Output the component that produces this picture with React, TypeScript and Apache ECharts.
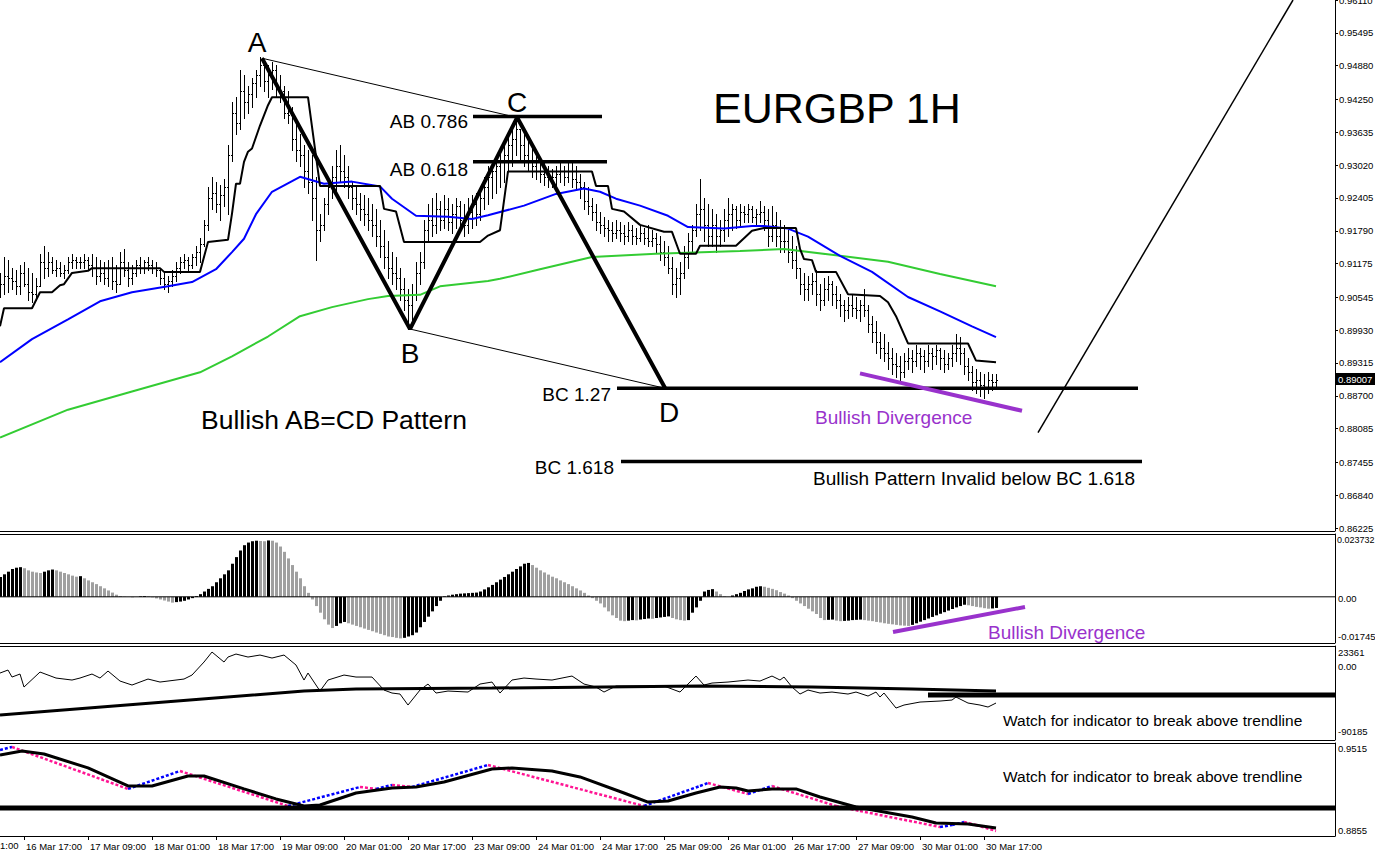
import React, { useEffect, useRef } from "react";
import * as echarts from "echarts";

// ---------- DATA ----------
const priceTicks = [0.86225, 0.8684, 0.87455, 0.88085, 0.887, 0.89315, 0.8993, 0.90545, 0.91175, 0.9179, 0.92405, 0.9302, 0.93635, 0.9425, 0.9488, 0.95495, 0.9611];
const timeTickIdx = [6, 22, 38, 54, 70, 86, 102, 118, 134, 150, 166, 182, 198, 214, 230, 246];
const timeTickLabels = ["16 Mar 17:00", "17 Mar 09:00", "18 Mar 01:00", "18 Mar 17:00", "19 Mar 09:00", "20 Mar 01:00", "20 Mar 17:00", "23 Mar 09:00", "24 Mar 01:00", "24 Mar 17:00", "25 Mar 09:00", "26 Mar 01:00", "26 Mar 17:00", "27 Mar 09:00", "30 Mar 01:00", "30 Mar 17:00"];
const currentPrice = 0.89007;
const firstOpenPips = 9070;

const highPips = [
  9100, 9130, 9125, 9110, 9105, 9115, 9120, 9110, 9100, 9090,
  9135, 9150, 9140, 9130, 9125, 9120, 9115, 9130, 9135, 9130,
  9130, 9135, 9130, 9135, 9130, 9125, 9120, 9125, 9130, 9115,
  9140, 9145, 9120, 9115, 9125, 9130, 9125, 9130, 9125, 9120,
  9110, 9100, 9095, 9105, 9120, 9130, 9135, 9130, 9135, 9150,
  9165, 9200, 9260, 9280, 9270, 9265, 9275, 9340, 9420, 9430,
  9480, 9470, 9450, 9465, 9480, 9505, 9495, 9490, 9495, 9490,
  9470, 9450, 9440, 9410, 9380, 9360, 9340, 9330, 9320, 9280,
  9210, 9240, 9280, 9300, 9330, 9340, 9320, 9300, 9270, 9260,
  9250, 9245, 9240, 9230, 9220, 9200, 9180, 9160, 9140, 9130,
  9110, 9090, 9070, 9080, 9120, 9140, 9200, 9230, 9240, 9250,
  9235, 9245, 9240, 9230, 9240, 9235, 9230, 9240, 9245, 9250,
  9260, 9280, 9300, 9310, 9320, 9330, 9340, 9360, 9375, 9390,
  9370, 9360, 9350, 9340, 9320, 9310, 9305, 9300, 9295, 9300,
  9305, 9300, 9310, 9305, 9300, 9285, 9270, 9260, 9240, 9230,
  9215, 9205, 9200, 9195, 9200, 9195, 9190, 9195, 9190, 9185,
  9190, 9185, 9190, 9180, 9175, 9170, 9160, 9150, 9130, 9110,
  9120, 9150, 9175, 9190, 9230, 9275, 9240, 9230, 9220, 9210,
  9200, 9220, 9240, 9230, 9225, 9230, 9225, 9230, 9225, 9220,
  9235, 9225, 9220, 9225, 9215, 9200, 9190, 9180, 9170, 9150,
  9110, 9100, 9095, 9100, 9105, 9080, 9090, 9095, 9085, 9075,
  9060, 9050, 9055, 9060, 9055, 9050, 9070, 9040, 9020, 9010,
  8990, 8985, 8970, 8960, 8950, 8945, 8950, 8960, 8955, 8965,
  8960, 8955, 8965, 8960, 8965, 8960, 8955, 8950, 8965, 8985,
  8980, 8960, 8940, 8925, 8920, 8915, 8910, 8915, 8910, 8910,
];
const lowPips = [
  9055, 9060, 9065, 9070, 9060, 9060, 9075, 9050, 9045, 9050,
  9075, 9090, 9095, 9100, 9095, 9095, 9090, 9100, 9110, 9110,
  9110, 9110, 9105, 9095, 9080, 9085, 9080, 9075, 9070, 9065,
  9080, 9095, 9075, 9080, 9095, 9100, 9100, 9105, 9100, 9095,
  9080, 9070, 9065, 9075, 9085, 9100, 9110, 9105, 9110, 9115,
  9120, 9150, 9180, 9220, 9215, 9200, 9225, 9210, 9310, 9360,
  9370, 9390, 9400, 9410, 9430, 9450, 9440, 9430, 9445, 9430,
  9420, 9390, 9380, 9330, 9310, 9300, 9260, 9250, 9200, 9125,
  9160, 9180, 9210, 9240, 9250, 9270, 9260, 9240, 9220, 9210,
  9200, 9190, 9180, 9170, 9150, 9130, 9110, 9090, 9080, 9070,
  9050, 9030, 8995, 9010, 9050, 9080, 9110, 9160, 9170, 9175,
  9180, 9185, 9180, 9175, 9185, 9180, 9170, 9175, 9185, 9190,
  9200, 9220, 9230, 9240, 9250, 9260, 9270, 9290, 9300, 9320,
  9310, 9300, 9290, 9280, 9275, 9270, 9265, 9260, 9260, 9265,
  9270, 9265, 9270, 9260, 9255, 9240, 9220, 9210, 9200, 9180,
  9175, 9170, 9160, 9160, 9165, 9160, 9155, 9160, 9155, 9155,
  9160, 9155, 9150, 9150, 9140, 9125, 9115, 9100, 9060, 9055,
  9060, 9090, 9110, 9140, 9170, 9180, 9160, 9150, 9150, 9140,
  9150, 9160, 9170, 9180, 9185, 9190, 9195, 9195, 9195, 9190,
  9195, 9180, 9150, 9160, 9150, 9140, 9140, 9120, 9110, 9090,
  9060, 9050, 9050, 9060, 9040, 9030, 9040, 9050, 9040, 9035,
  9020, 9010, 9015, 9020, 9015, 9010, 9020, 8990, 8970, 8950,
  8940, 8935, 8920, 8910, 8905, 8900, 8905, 8920, 8915, 8925,
  8920, 8915, 8925, 8920, 8930, 8920, 8915, 8920, 8925, 8935,
  8930, 8910, 8900, 8880, 8875, 8870, 8865, 8875, 8880, 8885,
];
const closePips = [
  9080, 9095, 9090, 9085, 9075, 9100, 9080, 9065, 9060, 9075,
  9120, 9110, 9120, 9105, 9110, 9100, 9105, 9120, 9125, 9120,
  9120, 9125, 9115, 9110, 9095, 9100, 9090, 9110, 9085, 9080,
  9120, 9105, 9090, 9100, 9115, 9110, 9120, 9115, 9110, 9105,
  9090, 9080, 9085, 9095, 9110, 9120, 9125, 9115, 9130, 9140,
  9155, 9190, 9240, 9250, 9230, 9245, 9260, 9320, 9400, 9380,
  9440, 9420, 9435, 9455, 9470, 9490, 9460, 9470, 9480, 9445,
  9440, 9400, 9395, 9350, 9330, 9320, 9290, 9270, 9240, 9180,
  9190, 9230, 9260, 9280, 9300, 9290, 9280, 9260, 9240, 9230,
  9220, 9210, 9200, 9190, 9170, 9150, 9130, 9110, 9100, 9090,
  9070, 9050, 9040, 9060, 9100, 9120, 9180, 9200, 9190, 9220,
  9200, 9220, 9195, 9210, 9225, 9200, 9190, 9215, 9230, 9210,
  9240, 9260, 9280, 9290, 9300, 9310, 9320, 9340, 9350, 9370,
  9340, 9320, 9310, 9300, 9290, 9285, 9280, 9275, 9280, 9285,
  9290, 9280, 9290, 9275, 9270, 9260, 9235, 9225, 9215, 9195,
  9190, 9185, 9180, 9175, 9180, 9175, 9170, 9180, 9170, 9165,
  9175, 9165, 9160, 9165, 9155, 9140, 9130, 9110, 9080, 9090,
  9100, 9130, 9160, 9180, 9210, 9220, 9190, 9170, 9190, 9170,
  9180, 9200, 9210, 9220, 9200, 9215, 9210, 9220, 9205, 9210,
  9215, 9200, 9170, 9190, 9170, 9160, 9160, 9140, 9125, 9110,
  9080, 9070, 9080, 9085, 9060, 9050, 9070, 9080, 9060, 9050,
  9040, 9030, 9040, 9035, 9030, 9040, 9030, 9005, 8990, 8970,
  8960, 8950, 8940, 8930, 8925, 8915, 8935, 8940, 8935, 8950,
  8945, 8935, 8950, 8945, 8955, 8940, 8930, 8940, 8950, 8960,
  8950, 8925, 8915, 8895, 8900, 8890, 8885, 8900, 8895, 8900,
];

// moving averages: [bar index, price]
const blueMA = [[0, 0.8933], [8, 0.8976], [17, 0.9013], [25, 0.9047], [33, 0.9064], [42, 0.9075], [48, 0.9083], [54, 0.9107], [58, 0.9139], [61, 0.9164], [64, 0.9210], [68, 0.9252], [75, 0.9280], [81, 0.9267], [88, 0.9271], [95, 0.9262], [98, 0.9239], [104, 0.9207], [112, 0.9205], [118, 0.9201], [122, 0.9208], [131, 0.9226], [139, 0.9248], [146, 0.9258], [150, 0.9252], [154, 0.9239], [160, 0.9226], [167, 0.9207], [172, 0.9186], [181, 0.9183], [188, 0.9188], [191, 0.9188], [197, 0.9183], [202, 0.9168], [210, 0.9132], [218, 0.9102], [227, 0.9055], [235, 0.9028], [243, 0.9000], [249, 0.8980]];
const greenMA = [[0, 0.8792], [17, 0.8844], [33, 0.8878], [50, 0.8914], [58, 0.8944], [67, 0.8981], [75, 0.9019], [83, 0.9036], [92, 0.9051], [97, 0.9057], [105, 0.9059], [110, 0.9075], [122, 0.9085], [125, 0.9089], [135, 0.9107], [148, 0.9130], [164, 0.9136], [185, 0.9141], [196, 0.9145], [210, 0.9132], [222, 0.9121], [235, 0.9098], [249, 0.9075]];
const blackStep = [[0, 0.9000], [1, 0.9034], [8, 0.9034], [10, 0.9064], [13, 0.9064], [15, 0.9077], [16, 0.9079], [18, 0.9100], [22, 0.9104], [23, 0.9109], [40, 0.9109], [41, 0.9102], [50, 0.9102], [52, 0.9158], [57, 0.9162], [58, 0.9211], [59, 0.9267], [60, 0.9267], [61, 0.9308], [62, 0.9327], [63, 0.9333], [65, 0.9376], [67, 0.9414], [68, 0.9429], [77, 0.9429], [80, 0.9263], [95, 0.9263], [96, 0.9220], [99, 0.9215], [101, 0.9158], [120, 0.9158], [122, 0.9170], [125, 0.9180], [127, 0.9290], [148, 0.9290], [149, 0.9263], [152, 0.9263], [153, 0.9220], [156, 0.9215], [160, 0.9190], [166, 0.9177], [168, 0.9177], [170, 0.9136], [174, 0.9136], [175, 0.9151], [184, 0.9151], [186, 0.9165], [188, 0.9179], [191, 0.9184], [199, 0.9184], [200, 0.9145], [201, 0.9126], [203, 0.9124], [204, 0.9102], [209, 0.9102], [212, 0.9060], [220, 0.9057], [222, 0.9045], [224, 0.9019], [227, 0.8968], [242, 0.8968], [244, 0.8936], [249, 0.8933]];

// pattern points A, B, C, D : [bar index, price]
const patternABCD = [[65.5, 0.9502], [102.5, 0.8995], [129.3, 0.9391], [166.3, 0.8884]];
const levelAB786 = [[118.25, 0.9393], [150.5, 0.9393]];
const levelAB618 = [[118.25, 0.9308], [151.75, 0.9308]];
const levelBC127 = [[154.25, 0.8884], [284.5, 0.8884]];
const levelBC1618 = [[155.25, 0.8747], [285.5, 0.8747]];
const projection = [[259.5, 0.8801], [323.25, 0.9611]];
const divergencePrice = [[215, 0.8912], [255.5, 0.8842]];

// MACD histogram (x 1e-4)
const macdE4 = [
  75, 85, 95, 105, 110, 112, 108, 100, 95, 92,
  90, 95, 100, 103, 100, 95, 90, 85, 80, 76,
  78, 70, 62, 55, 48, 40, 32, 24, 16, 8,
  3, 1, 0, -2, 0, 2, 3, 2, -2, -6,
  -10, -14, -18, -22, -20, -18, -15, -10, -5, 3,
  10, 20, 30, 40, 55, 70, 85, 100, 125, 150,
  175, 195, 205, 210, 212, 211, 210, 213, 212, 205,
  190, 170, 145, 120, 95, 70, 40, 15, -10, -35,
  -60, -85, -105, -118, -110, -100, -95, -100, -105, -110,
  -115, -120, -125, -130, -135, -140, -145, -150, -152, -155,
  -157, -155, -150, -145, -135, -115, -95, -75, -55, -35,
  -15, 2, 5, 8, 10, 12, 13, 14, 15, 16,
  20, 28, 36, 45, 55, 65, 75, 85, 95, 105,
  115, 125, 128, 120, 110, 100, 92, 84, 76, 70,
  62, 55, 48, 40, 32, 24, 15, 5, -5, -15,
  -25, -40, -55, -70, -80, -90, -92, -90, -88, -89,
  -86, -84, -82, -83, -80, -78, -76, -74, -80, -85,
  -88, -90, -88, -60, -40, -15, 20, 26, 29, 20,
  10, 2, 0, 5, 10, 15, 22, 28, 32, 38,
  40, 38, 34, 30, 25, 18, 12, 5, -5, -15,
  -25, -35, -45, -55, -65, -80, -88, -87, -86, -90,
  -92, -91, -90, -88, -87, -86, -88, -90, -92, -95,
  -97, -100, -102, -104, -106, -108, -109, -110, -106, -100,
  -94, -88, -82, -76, -70, -64, -58, -52, -46, -40,
  -35, -30, -32, -35, -38, -40, -43, -45, -44, -42,
];
const divergenceMacd = [[223.25, -0.0133], [256.25, -0.00385]];

// oscillator panel
const oscThin = [[0, -9300], [2, -5680], [3, -14130], [5, -10510], [6, -26210], [10, -8090], [14, -15340], [18, -17760], [20, -15340], [23, -10510], [25, -15340], [27, -6890], [30, -18970], [33, -23800], [37, -16550], [40, -20170], [46, -16550], [48, -11720], [51, 3990], [53, 16070], [56, 3990], [57, 10030], [59, 13650], [62, 10030], [65, 12440], [68, 8820], [71, 12440], [74, 360], [76, -17760], [77, -9300], [80, -31050], [82, -17760], [86, -11720], [89, -14130], [93, -14130], [96, -29840], [98, -33460], [100, -34670], [102, -47960], [105, -29840], [107, -22590], [109, -33460], [112, -31050], [117, -32250], [120, -22590], [123, -20170], [125, -33460], [128, -17760], [131, -15340], [134, -16550], [138, -17760], [143, -12930], [146, -22590], [149, -26210], [151, -32250], [154, -25010], [161, -25010], [166, -25010], [170, -32250], [172, -22590], [174, -12930], [176, -23800], [178, -21380], [182, -20170], [187, -17760], [190, -18970], [193, -12930], [195, -17760], [196, -14130], [198, -26210], [200, -34670], [202, -29840], [205, -33460], [208, -32250], [212, -34670], [214, -32250], [217, -37090], [219, -32250], [220, -38290], [221, -33460], [224, -51580], [226, -47960], [230, -44330], [235, -43130], [238, -41920], [239, -38290], [242, -45540], [245, -47960], [247, -50370], [249, -45540]];
const oscThick = [[0, -60040], [38, -45540], [76, -31050], [89, -28630], [123, -27420], [175, -25010], [203, -26210], [228, -28630], [249, -31050]];
const oscTrend = [[232, -35880], [333.75, -35880]];

// bottom panel
const lowerBlack = [[0, 0.9430], [5.5, 0.9458], [11, 0.9437], [22, 0.9338], [32, 0.9210], [38, 0.9210], [47, 0.9281], [51, 0.9281], [61, 0.9189], [69, 0.9118], [76, 0.9068], [80, 0.9075], [89, 0.9160], [98, 0.9196], [104, 0.9203], [111, 0.9238], [123, 0.9330], [128, 0.9338], [138, 0.9316], [145, 0.9274], [156, 0.9160], [162, 0.9096], [167, 0.9103], [174, 0.9160], [180, 0.9203], [184, 0.9196], [187, 0.9174], [193, 0.9189], [199, 0.9189], [205, 0.9132], [214, 0.9061], [228, 0.8990], [234, 0.8947], [242, 0.8940], [249, 0.8912]];
const lowerColor = [[0, 0.9465], [3, 0.9487], [32, 0.9189], [45, 0.9316], [72, 0.9068], [90, 0.9203], [94, 0.9189], [98, 0.9217], [103, 0.9203], [122, 0.9359], [161, 0.9068], [175, 0.9210], [177, 0.9231], [187, 0.9153], [193, 0.9210], [209, 0.9068], [215, 0.9032], [235, 0.8919], [238, 0.8933], [241, 0.8954], [244, 0.8933], [249, 0.8891]];
const lowerTrend = [[0, 0.90537], [333.75, 0.90537]];

// ---------- CHART ----------
const FONT = '"Liberation Sans", Arial, sans-serif';
const XMAX = 333.75;
const XMIN = 0;
const PLOT_RIGHT = 1335;
const SEPARATORS = [531, 534, 643, 646, 740, 743];

function buildOption() {
  const ohlc = closePips.map((c, i) => {
    const o = i === 0 ? firstOpenPips : closePips[i - 1];
    return [i, o / 10000, c / 10000, lowPips[i] / 10000, highPips[i] / 10000];
  });
  const macd = macdE4.map((v, i) => [i, v / 10000, (i === 0 ? v - 1 : macdE4[i - 1]) / 10000]);
  const segs = [] as number[][];
  for (let i = 1; i < lowerColor.length; i++) {
    segs.push([lowerColor[i - 1][0], lowerColor[i - 1][1], lowerColor[i][0], lowerColor[i][1]]);
  }

  const grids = [
    { left: 0, right: 40, top: 0, height: 531 },
    { left: 0, right: 40, top: 534, height: 109 },
    { left: 0, right: 40, top: 646, height: 94 },
    { left: 0, right: 40, top: 743, height: 93 },
  ].map((g) => ({ ...g, show: false, containLabel: false, outerBoundsMode: "none" }));

  const xAxes = [0, 1, 2, 3].map((gi) => ({
    type: "value",
    gridIndex: gi,
    min: XMIN,
    max: XMAX,
    splitLine: { show: false },
    axisLine: { show: gi === 3, onZero: false, lineStyle: { color: "#000" } },
    axisTick: gi === 3 ? { show: true, customValues: timeTickIdx, length: 4, lineStyle: { color: "#000" } } : { show: false },
    axisLabel:
      gi === 3
        ? {
            show: true,
            customValues: timeTickIdx,
            formatter: (v: number) => timeTickLabels[timeTickIdx.indexOf(Math.round(v))] || "",
            align: "left",
            margin: 5,
            padding: [0, 0, 0, 2],
            fontFamily: FONT,
            fontSize: 9.5,
            color: "#000",
          }
        : { show: false },
  }));

  const yBase = (gi: number, min: number, max: number) => ({
    type: "value",
    gridIndex: gi,
    position: "right",
    min,
    max,
    splitLine: { show: false },
    axisLine: { show: true, onZero: false, lineStyle: { color: "#000" } },
    axisTick: { show: false },
    axisLabel: { show: false },
  });

  const yAxes = [
    {
      ...yBase(0, 0.86169, 0.9611),
      axisTick: { show: true, customValues: priceTicks, length: 3, lineStyle: { color: "#000" } },
      axisLabel: {
        show: true,
        customValues: priceTicks,
        formatter: (v: number) => v.toFixed(5),
        margin: 4,
        fontFamily: FONT,
        fontSize: 9.5,
        color: "#000",
      },
    },
    yBase(1, -0.01745, 0.023732),
    yBase(2, -90185, 23361),
    yBase(3, 0.8855, 0.9515),
  ];

  const line = (data: number[][], gi: number, color: string, width: number, z = 3) => ({
    type: "line",
    xAxisIndex: gi,
    yAxisIndex: gi,
    data,
    symbol: "none",
    silent: true,
    z,
    clip: true,
    lineStyle: { color, width },
  });

  const series: any[] = [
    {
      type: "custom",
      xAxisIndex: 0,
      yAxisIndex: 0,
      data: ohlc,
      clip: true,
      z: 2,
      encode: { x: 0, y: [1, 2, 3, 4] },
      renderItem: (_p: any, api: any) => {
        const x = api.value(0);
        const o = api.value(1);
        const c = api.value(2);
        const l = Math.min(api.value(3), o, c);
        const h = Math.max(api.value(4), o, c);
        const pH = api.coord([x, h]);
        const pL = api.coord([x, l]);
        const pO = api.coord([x, o]);
        const pC = api.coord([x, c]);
        const xx = Math.round(pH[0]) + 0.5;
        const st = { stroke: "#000", lineWidth: 1 };
        return {
          type: "group",
          children: [
            { type: "line", shape: { x1: xx, y1: Math.round(pH[1]), x2: xx, y2: Math.round(pL[1]) + 1 }, style: st },
            { type: "line", shape: { x1: xx - 1.5, y1: Math.round(pO[1]) + 0.5, x2: xx, y2: Math.round(pO[1]) + 0.5 }, style: st },
            { type: "line", shape: { x1: xx, y1: Math.round(pC[1]) + 0.5, x2: xx + 1.5, y2: Math.round(pC[1]) + 0.5 }, style: st },
          ],
        };
      },
    },
    line(greenMA, 0, "#33cc33", 2),
    line(blueMA, 0, "#0000ff", 2),
    line(blackStep, 0, "#000", 2),
    line(patternABCD, 0, "#000", 4, 6),
    line([patternABCD[0], patternABCD[2]], 0, "#000", 1, 5),
    line([patternABCD[1], patternABCD[3]], 0, "#000", 1, 5),
    line(levelAB786, 0, "#000", 3.5, 6),
    line(levelAB618, 0, "#000", 3.5, 6),
    line(levelBC127, 0, "#000", 3.5, 6),
    line(levelBC1618, 0, "#000", 3.5, 6),
    line(projection, 0, "#000", 1.5, 6),
    line(divergencePrice, 0, "#9932cc", 4, 7),
    {
      type: "custom",
      xAxisIndex: 1,
      yAxisIndex: 1,
      data: macd,
      clip: true,
      encode: { x: 0, y: 1 },
      renderItem: (_p: any, api: any) => {
        const x = api.value(0);
        const v = api.value(1);
        const prev = api.value(2);
        const p1 = api.coord([x, v]);
        const p0 = api.coord([x, 0]);
        const cx = Math.round(p1[0]);
        return {
          type: "rect",
          shape: { x: cx - 1, y: Math.min(p0[1], p1[1]), width: 3, height: Math.abs(p1[1] - p0[1]) },
          style: { fill: v > prev ? "#000" : "#a0a0a0" },
        };
      },
    },
    line([[XMIN, 0], [XMAX, 0]], 1, "#000", 1, 4),
    line(divergenceMacd, 1, "#9932cc", 4, 7),
    line(oscThin, 2, "#000", 1),
    line(oscThick, 2, "#000", 3),
    line(oscTrend, 2, "#000", 5),
    line(lowerTrend, 3, "#000", 5),
    {
      type: "custom",
      xAxisIndex: 3,
      yAxisIndex: 3,
      data: segs,
      clip: true,
      z: 3,
      encode: { x: [0, 2], y: [1, 3] },
      renderItem: (_p: any, api: any) => {
        const a = api.coord([api.value(0), api.value(1)]);
        const b = api.coord([api.value(2), api.value(3)]);
        const rising = api.value(3) > api.value(1);
        return {
          type: "line",
          shape: { x1: a[0], y1: a[1], x2: b[0], y2: b[1] },
          style: { stroke: rising ? "#0000ff" : "#ff1493", lineWidth: 2.5, lineDash: [3, 2] },
        };
      },
    },
    line(lowerBlack, 3, "#000", 3, 4),
  ];

  return {
    animation: false,
    backgroundColor: "#fff",
    grid: grids,
    xAxis: xAxes,
    yAxis: yAxes,
    series,
  };
}

function txt(text: string, x: number, y: number, size: number, opts: any = {}) {
  return {
    type: "text",
    x,
    y,
    z: 100,
    silent: true,
    style: {
      text,
      font: `${size}px ${FONT}`,
      fill: opts.fill || "#000",
      textAlign: opts.align || "left",
      textVerticalAlign: "middle",
    },
  };
}

export default function App() {
  const ref = useRef<HTMLDivElement>(null);
  useEffect(() => {
    const chart = echarts.init(ref.current!, null, { renderer: "svg" });
    chart.setOption(buildOption() as any);
    const py = chart.convertToPixel({ yAxisIndex: 0 } as any, currentPrice) as unknown as number;
    const purple = "#9932cc";
    const frame = SEPARATORS.map((y) => ({
      type: "line",
      z: 50,
      silent: true,
      shape: { x1: 0, y1: y + 0.5, x2: PLOT_RIGHT, y2: y + 0.5 },
      style: { stroke: "#000", lineWidth: 1 },
    }));
    const graphics: any[] = [
      ...frame,
      txt("A", 257, 42, 28, { align: "center" }),
      txt("B", 410, 353, 28, { align: "center" }),
      txt("C", 517, 102, 28, { align: "center" }),
      txt("D", 669, 412, 28, { align: "center" }),
      txt("EURGBP 1H", 713, 108, 43),
      txt("AB 0.786", 468, 121, 19, { align: "right" }),
      txt("AB 0.618", 468, 169, 19, { align: "right" }),
      txt("BC 1.27", 611, 394, 19, { align: "right" }),
      txt("BC 1.618", 614, 467, 19, { align: "right" }),
      txt("Bullish AB=CD Pattern", 201, 420, 26.5),
      txt("Bullish Pattern Invalid below BC 1.618", 813, 478, 19),
      txt("Bullish Divergence", 815, 417, 19, { fill: purple }),
      txt("Bullish Divergence", 988, 632, 19, { fill: purple }),
      txt("Watch for indicator to break above trendline", 1003, 720, 15.5),
      txt("Watch for indicator to break above trendline", 1003, 776, 15.5),
      txt("0.023732", 1337, 540, 9),
      txt("0.00", 1338, 598, 9.5),
      txt("-0.01745", 1338, 636, 9.5),
      txt("23361", 1338, 652, 9.5),
      txt("0.00", 1338, 666, 9.5),
      txt("-90185", 1338, 731, 9.5),
      txt("0.9515", 1338, 748, 9.5),
      txt("0.8855", 1338, 830, 9.5),
      txt("1:00", 0, 845, 9.5),
      {
        type: "rect",
        z: 99,
        silent: true,
        shape: { x: 1336, y: Math.round(py) - 6, width: 39, height: 12 },
        style: { fill: "#000" },
      },
      txt(currentPrice.toFixed(5), 1338, py, 9.5, { fill: "#fff" }),
    ];
    chart.setOption({ graphic: graphics });
    return () => chart.dispose();
  }, []);
  return (
    <div
      ref={ref}
      style={{ position: "fixed", left: 0, top: 0, width: 1375, height: 857, background: "#fff" }}
    />
  );
}
